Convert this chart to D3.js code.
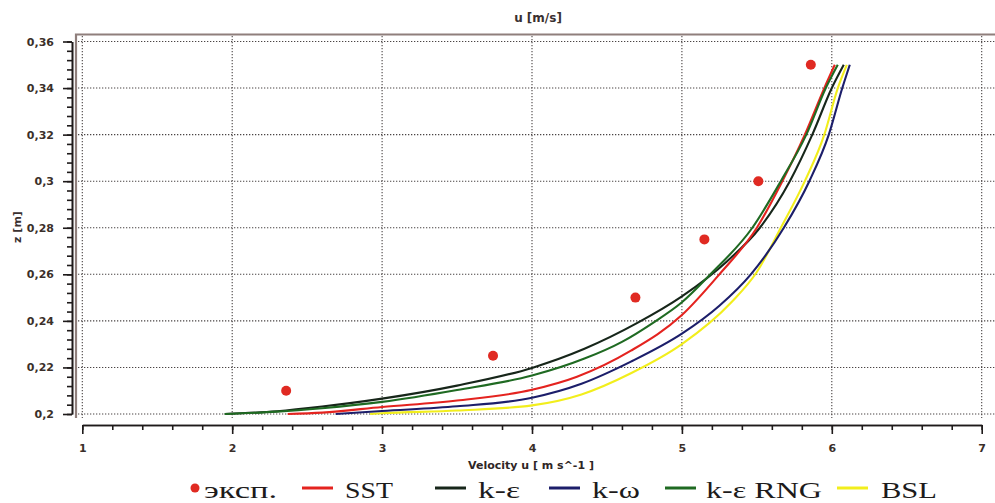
<!DOCTYPE html>
<html>
<head>
<meta charset="utf-8">
<script src="https://cdn.jsdelivr.net/npm/d3@7"></script>
<style>
  html, body { margin: 0; padding: 0; background: #fff; }
  svg { display: block; }
</style>
</head>
<body>
<svg id="chart" width="995" height="503"></svg>
<script>
// Velocity profiles u(z) for several turbulence models, plus measured points.
const uTicks = [1, 2, 3, 4, 5, 6, 7];
const uTickLabels = ["1", "2", "3", "4", "5", "6", "7"];
const zTicks = [0.2, 0.22, 0.24, 0.26, 0.28, 0.3, 0.32, 0.34, 0.36];
const zTickLabels = ["0,2", "0,22", "0,24", "0,26", "0,28", "0,3", "0,32", "0,34", "0,36"];

// measured (эксп.)
const expU = [2.36, 3.74, 4.69, 5.15, 5.51, 5.86];
const expZ = [0.21, 0.225, 0.25, 0.275, 0.30, 0.35];

// SST
const sstU = [2.37, 2.6, 3.0, 3.5, 4.0, 4.3, 4.66, 5.0, 5.25, 5.5, 5.67, 5.82, 5.95, 6.02];
const sstZ = [0.200, 0.2006, 0.203, 0.2058, 0.2104, 0.2160, 0.2272, 0.2425, 0.26, 0.28, 0.30, 0.32, 0.34, 0.35];

// k-ε
const keU = [1.95, 2.3, 2.6, 3.0, 3.5, 4.0, 4.35, 4.7, 5.0, 5.3, 5.52, 5.72, 5.87, 6.0, 6.08];
const keZ = [0.200, 0.2012, 0.2032, 0.2066, 0.2122, 0.2198, 0.2280, 0.2390, 0.2505, 0.2655, 0.28, 0.30, 0.32, 0.34, 0.35];

// k-ω
const kwU = [2.69, 3.0, 3.5, 4.0, 4.33, 4.66, 5.0, 5.25, 5.46, 5.68, 5.85, 5.98, 6.07, 6.12];
const kwZ = [0.200, 0.2013, 0.2033, 0.2070, 0.2130, 0.2225, 0.2345, 0.2465, 0.26, 0.28, 0.30, 0.32, 0.34, 0.35];

// k-ε RNG
const rngU = [1.95, 2.3, 2.6, 3.0, 3.5, 4.0, 4.35, 4.6, 4.81, 5.0, 5.19, 5.47, 5.66, 5.83, 5.96, 6.04];
const rngZ = [0.200, 0.2010, 0.2025, 0.2052, 0.2103, 0.2165, 0.2238, 0.2310, 0.2393, 0.248, 0.26, 0.28, 0.30, 0.32, 0.34, 0.35];

// BSL
const bslU = [2.92, 3.0, 3.5, 4.0, 4.33, 4.66, 5.0, 5.33, 5.5, 5.66, 5.82, 5.95, 6.04, 6.10];
const bslZ = [0.200, 0.2003, 0.2015, 0.2037, 0.2084, 0.2175, 0.2300, 0.2480, 0.2610, 0.28, 0.30, 0.32, 0.34, 0.35];

const series = [
  { name: "BSL",     u: bslU, z: bslZ, color: "#f2ee1c" },
  { name: "k-ω",     u: kwU,  z: kwZ,  color: "#1c1e6a" },
  { name: "k-ε",     u: keU,  z: keZ,  color: "#17261a" },
  { name: "SST",     u: sstU, z: sstZ, color: "#e4231f" },
  { name: "k-ε RNG", u: rngU, z: rngZ, color: "#1f6a22" }
];

const svg = d3.select("#chart");

const x = d3.scaleLinear().domain([1, 7]).range([82.3, 981.7]);
const y = d3.scaleLinear().domain([0.2, 0.36]).range([414, 41.5]);

// dotted grid
const grid = svg.append("g")
  .attr("stroke", "#4a4444")
  .attr("stroke-width", 1.1)
  .attr("stroke-dasharray", "1.3,1.7");
grid.selectAll("line.h").data(zTicks).join("line")
  .attr("class", "h")
  .attr("x1", 78).attr("x2", 995)
  .attr("y1", d => y(d)).attr("y2", d => y(d));
grid.selectAll("line.v").data(uTicks).join("line")
  .attr("class", "v")
  .attr("x1", d => x(d)).attr("x2", d => x(d))
  .attr("y1", 36).attr("y2", 418);

// plot frame (top and left edges)
svg.append("path")
  .attr("d", "M76,418V34.5H995")
  .attr("fill", "none")
  .attr("stroke", "#8f7f7c")
  .attr("stroke-width", 2.2);

// y axis
const yMinor = d3.range(0, 41).map(i => 0.2 + i * 0.004);
const yAxisG = svg.append("g").attr("transform", "translate(72,0)");
yAxisG.call(d3.axisLeft(y).tickValues(yMinor).tickSize(5).tickFormat("").tickSizeOuter(0));
yAxisG.call(g => g.append("g").call(
  d3.axisLeft(y).tickValues(zTicks).tickSize(9).tickPadding(9).tickSizeOuter(0)
    .tickFormat((d, i) => zTickLabels[i])));
yAxisG.selectAll("path, line").attr("stroke", "#1e1a1a").attr("stroke-width", 1.6);
yAxisG.selectAll("text")
  .attr("fill", "#3b2f2a")
  .style("font", "bold 11px 'DejaVu Sans'");

// x axis
const xMinor = d3.range(0, 31).map(i => 1 + i * 0.2);
const xAxisG = svg.append("g").attr("transform", "translate(0,425)");
xAxisG.call(d3.axisBottom(x).tickValues(xMinor).tickSize(5).tickFormat("").tickSizeOuter(0));
xAxisG.call(g => g.append("g").call(
  d3.axisBottom(x).tickValues(uTicks).tickSize(9).tickPadding(10).tickSizeOuter(0)
    .tickFormat((d, i) => uTickLabels[i])));
xAxisG.selectAll("path, line").attr("stroke", "#1e1a1a").attr("stroke-width", 1.6);
xAxisG.selectAll("text")
  .attr("fill", "#3b2f2a")
  .style("font", "bold 11px 'DejaVu Sans'");

// titles
svg.append("text")
  .attr("x", 538).attr("y", 22)
  .attr("text-anchor", "middle")
  .attr("fill", "#3a3030")
  .style("font", "bold 12px 'DejaVu Sans'")
  .text("u [m/s]");
svg.append("text")
  .attr("transform", "translate(21,227) rotate(-90)")
  .attr("text-anchor", "middle")
  .attr("fill", "#3a3030")
  .style("font", "bold 11px 'DejaVu Sans'")
  .text("z [m]");
svg.append("text")
  .attr("x", 531).attr("y", 469)
  .attr("text-anchor", "middle")
  .attr("fill", "#2e2626")
  .style("font", "bold 11px 'DejaVu Sans'")
  .text("Velocity u [ m s^-1 ]");

// model curves
const line = d3.line()
  .x(d => x(d[0]))
  .y(d => y(d[1]))
  .curve(d3.curveMonotoneX);
svg.append("g").selectAll("path").data(series).join("path")
  .attr("d", s => line(d3.zip(s.u, s.z)))
  .attr("fill", "none")
  .attr("stroke", s => s.color)
  .attr("stroke-width", 2.1)
  .attr("stroke-linejoin", "round");

// measured points
svg.append("g").selectAll("circle").data(d3.zip(expU, expZ)).join("circle")
  .attr("cx", d => x(d[0]))
  .attr("cy", d => y(d[1]))
  .attr("r", 5)
  .attr("fill", "#e02a22");

// legend
const legendItems = [
  { label: "эксп.",   color: "#e02a22", dot: true, mark: 195, tx: 204, tw: 73 },
  { label: "SST",     color: "#e4231f", mark: 302, tx: 345, tw: 48 },
  { label: "k-ε",     color: "#17261a", mark: 435, tx: 478, tw: 42 },
  { label: "k-ω",     color: "#1c1e6a", mark: 549, tx: 592, tw: 48 },
  { label: "k-ε RNG", color: "#1f6a22", mark: 665, tx: 706, tw: 116 },
  { label: "BSL",     color: "#f2ee1c", mark: 837, tx: 881, tw: 56 }
];
const lg = svg.append("g");
legendItems.forEach(it => {
  if (it.dot) {
    lg.append("circle").attr("cx", it.mark).attr("cy", 488).attr("r", 4.5).attr("fill", it.color);
  } else {
    lg.append("line")
      .attr("x1", it.mark).attr("x2", it.mark + 31)
      .attr("y1", 488).attr("y2", 488)
      .attr("stroke", it.color).attr("stroke-width", 3);
  }
  lg.append("text")
    .attr("x", it.tx).attr("y", 498)
    .attr("textLength", it.tw)
    .attr("lengthAdjust", "spacingAndGlyphs")
    .attr("fill", "#1d1b1b")
    .style("font", "24px 'Liberation Serif'")
    .text(it.label);
});
</script>
</body>
</html>
